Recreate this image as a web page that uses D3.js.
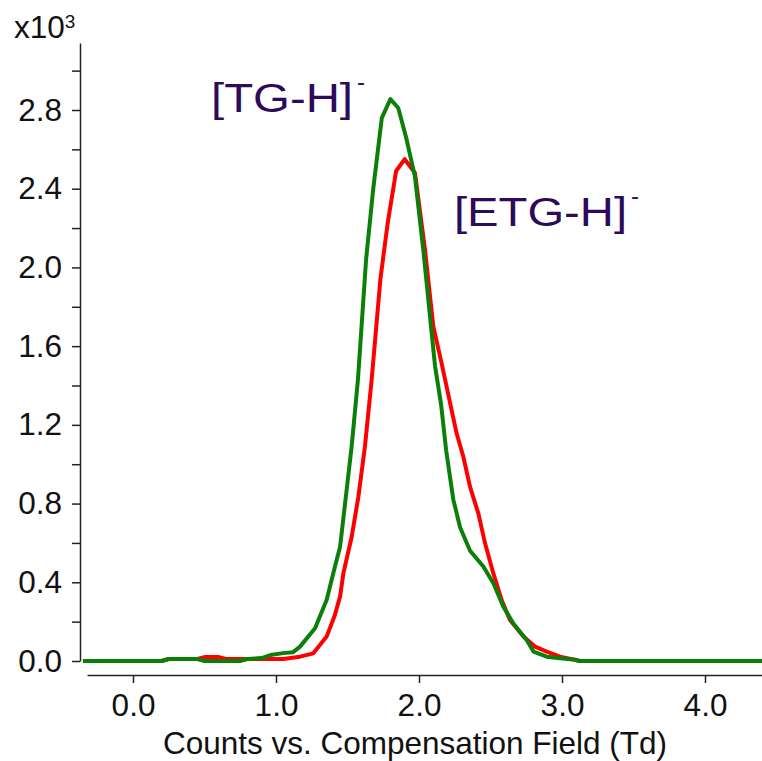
<!DOCTYPE html>
<html>
<head>
<meta charset="utf-8">
<script src="https://cdn.jsdelivr.net/npm/d3@7"></script>
<style>
  body { margin: 0; background: #fff; }
  svg { font-family: "Liberation Sans", Arial, sans-serif; }
</style>
</head>
<body>
<div id="chart"></div>
<script>
// Compensation field (Td) and counts (x10^3)
const tgField  = [-0.35, 0.20, 0.25, 0.45, 0.50, 0.75, 0.80, 0.90, 0.96, 1.05, 1.12, 1.168, 1.273, 1.354, 1.40, 1.448, 1.483, 1.529, 1.573, 1.63, 1.68, 1.74, 1.80, 1.855, 1.91, 1.972, 2.03, 2.077, 2.112, 2.155, 2.19, 2.24, 2.287, 2.357, 2.45, 2.52, 2.59, 2.66, 2.753, 2.80, 2.893, 2.986, 3.08, 3.12, 4.40];
const tgCounts = [0, 0, 0.01, 0.01, 0, 0, 0.01, 0.015, 0.03, 0.04, 0.045, 0.073, 0.166, 0.31, 0.445, 0.58, 0.80, 1.09, 1.43, 2.04, 2.40, 2.76, 2.855, 2.81, 2.66, 2.46, 2.09, 1.75, 1.50, 1.30, 1.07, 0.82, 0.68, 0.56, 0.48, 0.395, 0.276, 0.19, 0.107, 0.048, 0.022, 0.014, 0.008, 0, 0];

const etgField  = [-0.35, 0.20, 0.25, 0.45, 0.50, 0.60, 0.65, 1.05, 1.168, 1.261, 1.354, 1.41, 1.448, 1.471, 1.529, 1.576, 1.622, 1.669, 1.73, 1.78, 1.84, 1.90, 1.972, 2.042, 2.10, 2.159, 2.228, 2.263, 2.31, 2.357, 2.415, 2.462, 2.52, 2.578, 2.636, 2.73, 2.811, 2.893, 2.986, 3.13];
const etgCounts = [0, 0, 0.01, 0.01, 0.02, 0.02, 0.01, 0.01, 0.022, 0.039, 0.124, 0.23, 0.327, 0.445, 0.63, 0.834, 1.09, 1.43, 1.94, 2.22, 2.49, 2.55, 2.48, 2.09, 1.70, 1.51, 1.275, 1.157, 1.038, 0.885, 0.75, 0.598, 0.445, 0.31, 0.208, 0.124, 0.073, 0.048, 0.022, 0];

const xTicks = [0, 1, 2, 3, 4];
const yTicks = [0, 0.4, 0.8, 1.2, 1.6, 2.0, 2.4, 2.8];
const yMinorTicks = [0.2, 0.6, 1.0, 1.4, 1.8, 2.2, 2.6, 3.0];

const W = 762, H = 761;
const fontSize = "31.5px";

const svg = d3.select("#chart").append("svg")
    .attr("width", W)
    .attr("height", H);

// scales fitted to the tick positions
const x = d3.scaleLinear().domain([0, 4]).range([133, 705]);
const y = d3.scaleLinear().domain([0, 2.8]).range([661, 110]);

const axisColor = "#222";

// y axis (majors labelled, minors unlabelled)
const yAxisScale = y.copy().domain([0, y.invert(43)]).range([661, 43]);
svg.append("g")
    .attr("transform", "translate(80,0)")
    .call(d3.axisLeft(yAxisScale)
        .tickValues(yTicks.concat(yMinorTicks))
        .tickSize(8)
        .tickSizeOuter(0)
        .tickPadding(10)
        .tickFormat(d => yTicks.some(t => Math.abs(t - d) < 1e-9) ? d3.format(".1f")(d) : ""));

// x axis, detached from the y axis
const xAxisScale = x.copy().domain([x.invert(87), x.invert(W)]).range([87, W]);
svg.append("g")
    .attr("transform", "translate(0,675)")
    .call(d3.axisBottom(xAxisScale)
        .tickValues(xTicks)
        .tickSize(8)
        .tickSizeOuter(0)
        .tickPadding(11)
        .tickFormat(d3.format(".1f")));

svg.selectAll(".domain, .tick line")
    .attr("stroke", axisColor)
    .attr("stroke-width", 1.5);
svg.selectAll(".tick text")
    .attr("fill", "#111")
    .style("font-size", fontSize)
    .style("font-family", "'Liberation Sans', Arial, sans-serif");

// multiplier label
const mult = svg.append("text")
    .attr("x", 14)
    .attr("y", 38)
    .attr("fill", "#111")
    .style("font-size", fontSize);
mult.append("tspan").text("x10");
mult.append("tspan").attr("dy", -10).style("font-size", "19px").text("3");

// axis title
svg.append("text")
    .attr("x", 415)
    .attr("y", 754)
    .attr("text-anchor", "middle")
    .attr("fill", "#111")
    .style("font-size", fontSize)
    .text("Counts vs. Compensation Field (Td)");

// traces
const line = d3.line()
    .x(d => x(d[0]))
    .y(d => y(d[1]));

svg.append("path")
    .datum(d3.zip(etgField, etgCounts))
    .attr("fill", "none")
    .attr("stroke", "#ff0000")
    .attr("stroke-width", 4)
    .attr("stroke-linejoin", "round")
    .attr("d", line);

svg.append("path")
    .datum(d3.zip(tgField, tgCounts))
    .attr("fill", "none")
    .attr("stroke", "#0a800a")
    .attr("stroke-width", 4)
    .attr("stroke-linejoin", "round")
    .attr("d", line);

// peak labels
const labelColor = "#2d0a5a";
function peakLabel(px, py, name, len) {
    const t = svg.append("text")
        .attr("x", px)
        .attr("y", py)
        .attr("fill", labelColor)
        .style("font-size", "40px");
    t.append("tspan").attr("textLength", len).attr("lengthAdjust", "spacingAndGlyphs").text(name);
    t.append("tspan").attr("dx", 4).attr("dy", -22).style("font-size", "24px").text("-");
}
peakLabel(211, 112, "[TG-H]", 142);
peakLabel(454, 226, "[ETG-H]", 173);
</script>
</body>
</html>
